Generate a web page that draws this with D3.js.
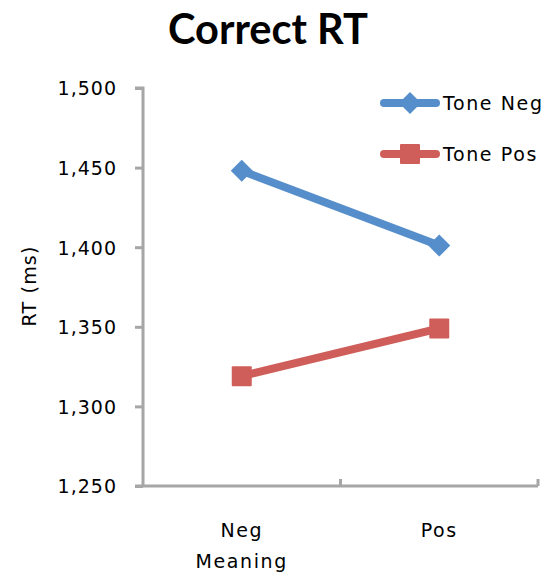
<!DOCTYPE html>
<html>
<head>
<meta charset="utf-8">
<script src="https://cdn.jsdelivr.net/npm/d3@7"></script>
<style>
  html, body { margin: 0; padding: 0; background: #fff; }
  svg { display: block; }
</style>
</head>
<body>
<svg id="chart" width="548" height="581"></svg>
<script>
// Mean correct reaction times by meaning and tone
const categories = ["Neg", "Pos"];
const seriesNames = ["Tone Neg", "Tone Pos"];
const toneNeg = [1448, 1401];
const tonePos = [1319, 1349];
const yTicks = [1250, 1300, 1350, 1400, 1450, 1500];

const colors = ["#558ECB", "#CF5E5A"];
const svg = d3.select("#chart");

const plotLeft = 143, plotRight = 538, plotTop = 88, plotBottom = 486;

const x = d3.scaleBand().domain(categories).range([plotLeft, plotRight]);
const y = d3.scaleLinear().domain([1250, 1500]).range([plotBottom, plotTop]);

const axisColor = "#a6a6a6";
const font = "'DejaVu Sans', sans-serif";

// Title
svg.append("text")
  .attr("x", 268).attr("y", 44)
  .attr("text-anchor", "middle")
  .attr("font-family", "Lato, 'Open Sans', sans-serif")
  .attr("font-weight", "bold")
  .attr("font-size", 42)
  .attr("textLength", 200).attr("lengthAdjust", "spacingAndGlyphs")
  .attr("fill", "#000")
  .text("Correct RT");

// Y axis
const yAxis = svg.append("g")
  .attr("transform", `translate(${plotLeft},0)`)
  .call(d3.axisLeft(y).tickValues(yTicks).tickSize(8).tickPadding(18)
    .tickFormat(d3.format(",")));
yAxis.select(".domain").attr("stroke", axisColor).attr("stroke-width", 3)
  .attr("d", `M-8,${plotTop}H0V${plotBottom}`);
yAxis.selectAll(".tick line").attr("stroke", axisColor).attr("stroke-width", 3);
yAxis.selectAll(".tick text")
  .attr("font-family", font).attr("font-size", 19).attr("fill", "#000")
  .attr("letter-spacing", 1)
  .attr("dy", "0.36em");

// X axis
const xAxis = svg.append("g")
  .attr("transform", `translate(0,${plotBottom})`)
  .call(d3.axisBottom(x).tickSize(0).tickPadding(0));
xAxis.select(".domain").attr("stroke", axisColor).attr("stroke-width", 3)
  .attr("d", `M${plotLeft - 8},0H${plotRight}`);
xAxis.selectAll(".tick text")
  .attr("font-family", font).attr("font-size", 19).attr("fill", "#000")
  .attr("letter-spacing", 1.5)
  .attr("y", 51).attr("dy", 0);
// category boundary ticks
const bounds = [x("Pos"), plotRight];
xAxis.selectAll(".bound").data(bounds).enter().append("line")
  .attr("class", "bound")
  .attr("x1", d => d).attr("x2", d => d)
  .attr("y1", 0).attr("y2", -7)
  .attr("stroke", axisColor).attr("stroke-width", 3);

// Axis titles
svg.append("text")
  .attr("x", x("Neg") + x.bandwidth() / 2).attr("y", 568)
  .attr("text-anchor", "middle")
  .attr("font-family", font).attr("font-size", 19).attr("fill", "#000")
  .attr("letter-spacing", 1.6)
  .text("Meaning");
svg.append("text")
  .attr("transform", `translate(36,${(plotTop + plotBottom) / 2 - 1}) rotate(-90)`)
  .attr("text-anchor", "middle")
  .attr("font-family", font).attr("font-size", 19).attr("fill", "#000")
  .attr("letter-spacing", 1.2)
  .text("RT (ms)");

// Series
const series = [toneNeg, tonePos];
const cx = c => x(c) + x.bandwidth() / 2;
const line = d3.line().x((d, i) => cx(categories[i])).y(d => y(d));

function marker(g, type, color) {
  if (type === 0) {
    g.append("path").attr("d", "M0,-11L11,0L0,11L-11,0Z").attr("fill", color);
  } else {
    g.append("rect").attr("x", -10).attr("y", -10).attr("width", 20).attr("height", 20)
      .attr("rx", 1).attr("fill", color);
  }
}

series.forEach((vals, s) => {
  svg.append("path").datum(vals)
    .attr("d", line).attr("fill", "none")
    .attr("stroke", colors[s]).attr("stroke-width", 8).attr("stroke-linecap", "round");
  vals.forEach((v, i) => {
    const g = svg.append("g").attr("transform", `translate(${cx(categories[i])},${y(v)})`);
    marker(g, s, colors[s]);
  });
});

// Legend
seriesNames.forEach((name, s) => {
  const ly = 103 + s * 51;
  svg.append("line").attr("x1", 384).attr("x2", 436).attr("y1", ly).attr("y2", ly)
    .attr("stroke", colors[s]).attr("stroke-width", 8).attr("stroke-linecap", "round");
  const g = svg.append("g").attr("transform", `translate(410,${ly})`);
  marker(g, s, colors[s]);
  svg.append("text").attr("x", 443).attr("y", ly + 7)
    .attr("font-family", font).attr("font-size", 19).attr("fill", "#000")
    .attr("letter-spacing", 1.6)
    .text(name);
});
</script>
</body>
</html>
